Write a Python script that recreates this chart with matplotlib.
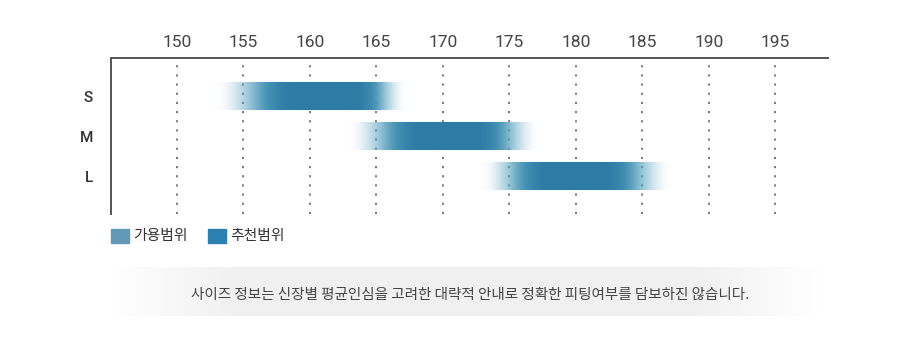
import numpy as np
import matplotlib.pyplot as plt
from matplotlib.colors import to_rgb
from matplotlib.patches import Rectangle

plt.rcParams['font.family'] = ['Roboto', 'Noto Sans CJK KR', 'DejaVu Sans']

sizes = ['S', 'M', 'L']
avail_lo = [155, 165, 175]
avail_hi = [165, 175, 185]
rec_lo = [158.8, 168.3, 177.8]
rec_hi = [163.5, 172.5, 182]
fade = 2.3
height_ticks = [150, 155, 160, 165, 170, 175, 180, 185, 190, 195]
legend_labels = ['가용범위', '추천범위']
legend_colors = ['#6399b8', '#2a80af']
note = '사이즈 정보는 신장별 평균인심을 고려한 대략적 안내로 정확한 피팅여부를 담보하진 않습니다.'

dark = np.array(to_rgb('#2e7ca6'))
light = np.array(to_rgb('#5aa5c0'))


def smooth(t):
    t = np.clip(t, 0, 1)
    return t * t * (3 - 2 * t)


fig = plt.figure(figsize=(9.2, 3.47), dpi=100)
ax = fig.add_axes([111 / 920, 1 - 214 / 347, (828 - 111) / 920, 156 / 347])

for x in height_ticks:
    ax.axvline(x, color='#555555', lw=1.1, dashes=(1.4, 4.6), zorder=1)

bar_h = 0.68
for i, s in enumerate(sizes):
    x0 = avail_lo[i] - fade
    x1 = avail_hi[i] + fade
    xs = np.linspace(x0, x1, 800)
    t = np.where(xs < rec_lo[i], (xs - x0) / (rec_lo[i] - x0),
                 np.where(xs > rec_hi[i], (x1 - xs) / (x1 - rec_hi[i]), 1.0))
    t = np.clip(t, 0, 1)
    alpha = smooth(t / 0.72) ** 1.2
    mix = smooth((t - 0.35) / 0.65)
    rgba = np.ones((1, len(xs), 4))
    rgba[0, :, :3] = light[None, :] + (dark - light)[None, :] * mix[:, None]
    rgba[0, :, 3] = alpha
    ax.imshow(rgba, extent=(x0, x1, i + bar_h / 2, i - bar_h / 2),
              aspect='auto', interpolation='bilinear', zorder=2)

ax.set_xlim(145.05, 198.95)
ax.set_ylim(2.94, -0.96)

ax.xaxis.tick_top()
ax.set_xticks(height_ticks)
ax.set_xticklabels([str(v) for v in height_ticks], fontsize=12.5, color='#444444')
ax.tick_params(axis='x', length=0, pad=6)
ax.set_yticks(range(len(sizes)))
ax.set_yticklabels(sizes, fontsize=11, color='#333333', fontweight='medium')
ax.tick_params(axis='y', length=0, pad=13)

for side in ['right', 'bottom']:
    ax.spines[side].set_visible(False)
for side in ['top', 'left']:
    ax.spines[side].set_color('#555555')
    ax.spines[side].set_linewidth(1.4)

# legend
lx = [111, 208]
for k, lab in enumerate(legend_labels):
    fig.patches.append(Rectangle((lx[k] / 920, 1 - 243 / 347), 18 / 920, 14 / 347,
                                 transform=fig.transFigure, color=legend_colors[k]))
    fig.text((lx[k] + 22) / 920, 1 - 236 / 347, lab, fontsize=10.7, color='#333333',
             va='center', ha='left', family=['Noto Sans CJK KR', 'DejaVu Sans'])

# note box
nax = fig.add_axes([110 / 920, 1 - 316 / 347, 710 / 920, 49 / 347])
xx = np.linspace(0, 1, 400)
prof = np.clip(np.minimum(xx / 0.18, (1 - xx) / 0.18), 0, 1)
band = np.ones((1, len(xx), 4))
band[0, :, :3] = 0.945
band[0, :, 3] = prof
nax.imshow(band, extent=(0, 1, 0, 1), aspect='auto', interpolation='bilinear')
nax.set_xlim(0, 1)
nax.set_ylim(0, 1)
nax.axis('off')
fig.text(470 / 920, 1 - 295 / 347, note, fontsize=10.5, color='#444444', ha='center',
         va='center', family=['Noto Sans CJK KR', 'DejaVu Sans'])

fig.savefig('out.png', dpi=100)
